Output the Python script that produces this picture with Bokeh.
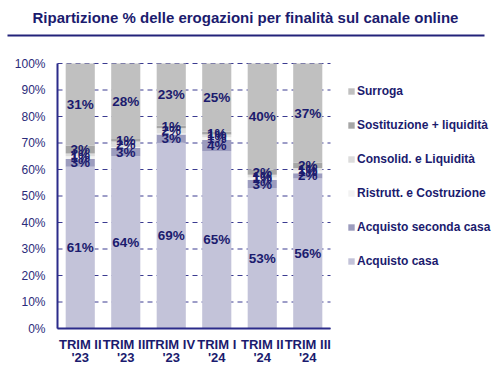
from bokeh.plotting import figure
from bokeh.models import (Range1d, FixedTicker, PrintfTickFormatter, Legend, LegendItem,
                          ColumnDataSource)
from bokeh.core.properties import value
from bokeh.embed import file_html
from bokeh.resources import INLINE

# ---------------- data ----------------
categories = ["TRIM II\n'23", "TRIM III\n'23", "TRIM IV\n'23", "TRIM I\n'24", "TRIM II\n'24", "TRIM III\n'24"]
series_names = ["Acquisto casa", "Acquisto seconda casa", "Ristrutt. e Costruzione",
                "Consolid. e Liquidità", "Sostituzione + liquidità", "Surroga"]
acquisto_casa = [61, 64, 69, 65, 53, 56]
acquisto_seconda = [3, 3, 3, 4, 3, 2]
ristrutt = [1, 0.4, 0.4, 1, 1, 1]
consolid = [1, 2, 2, 1, 1, 1]
sostituzione = [3, 1, 1, 1, 2, 2]
surroga = [31, 28, 23, 25, 40, 37]
y_ticks = [0, 10, 20, 30, 40, 50, 60, 70, 80, 90, 100]
title_text = "Ripartizione % delle erogazioni per finalità sul canale online"

series = [acquisto_casa, acquisto_seconda, ristrutt, consolid, sostituzione, surroga]
colors = ["#C3C3D9", "#9C9CBE", "#F2F2F2", "#DCDCDC", "#A6A6A6", "#C0C0C0"]

NAVY = "#1B1B6E"
AXIS = "#2B2B8A"
FONT = "Liberation Sans"

# ---------------- layout geometry (pixels) ----------------
W, H = 496, 371
PX_LEFT, PX_PER_CAT = 57.0, 45.5      # plot area left edge, width of one category
PX_ZERO, PX_PER_PCT = 328.0, 2.65     # y pixel of 0 %, pixels per percent
n = len(categories)


def px2x(px):
    return (px - PX_LEFT) / PX_PER_CAT


def px2y(py):
    return (PX_ZERO - py) / PX_PER_PCT


xs = [i + 0.5 for i in range(n)]
totals = [sum(s[i] for s in series) for i in range(n)]
data = {"x": xs}
keys = []
for k, s in enumerate(series):
    key = f"s{k}"
    keys.append(key)
    data[key] = [s[i] / totals[i] * 100 for i in range(n)]
src = ColumnDataSource(data)

p = figure(width=W, height=H,
           x_range=Range1d(px2x(0), px2x(W)), y_range=Range1d(px2y(H), px2y(0)),
           output_backend="svg", toolbar_location=None, min_border=0)
p.outline_line_color = None
p.grid.visible = False

# title and rule
p.text(x=[px2x(245)], y=[px2y(17)], text=[title_text], text_font=value(FONT),
       text_font_style="bold", text_font_size="15px", text_color=NAVY,
       text_align="center", text_baseline="middle")
p.segment(x0=[px2x(7)], y0=[px2y(35)], x1=[px2x(484)], y1=[px2y(35)],
          line_color="#23237A", line_width=2.2)

# dashed horizontal gridlines across the plot area only
p.segment(x0=[0] * len(y_ticks), x1=[n] * len(y_ticks), y0=y_ticks, y1=y_ticks,
          line_color="#3A3A90", line_dash="5 4", line_width=1)

renderers = p.vbar_stack(keys, x="x", width=0.64, source=src, color=colors, line_color=None)

# data labels
lx, ly, lt = [], [], []
for i in range(n):
    base = 0.0
    for k, s in enumerate(series):
        h = s[i] / totals[i] * 100
        if round(s[i]) >= 1:
            lx.append(xs[i])
            ly.append(base + h / 2)
            lt.append(f"{round(s[i])}%")
        base += h
p.text(x=lx, y=ly, text=lt, text_font=value(FONT), text_font_style="bold",
       text_font_size="13.5px", text_color=NAVY, text_align="center", text_baseline="middle")

# axes fixed at the plot area's edges
yax = p.yaxis[0]
yax.fixed_location = 0
yax.bounds = (0, 100)
yax.ticker = FixedTicker(ticks=y_ticks)
yax.formatter = PrintfTickFormatter(format="%d%%")
yax.major_label_text_font = FONT
yax.major_label_text_font_size = "12px"
yax.major_label_text_color = "#2B2B7A"
yax.major_label_standoff = 12
yax.major_tick_out = 0
yax.major_tick_in = 0
yax.minor_tick_out = 0
yax.minor_tick_in = 0
yax.axis_line_color = AXIS
yax.axis_line_width = 2

xax = p.xaxis[0]
xax.fixed_location = 0
xax.bounds = (0, n)
xax.ticker = FixedTicker(ticks=xs)
xax.major_label_overrides = {x: c for x, c in zip(xs, categories)}
xax.major_label_text_font = FONT
xax.major_label_text_font_size = "13px"
xax.major_label_text_font_style = "bold"
xax.major_label_text_color = NAVY
xax.major_label_text_line_height = 0.88
xax.major_label_standoff = 8
xax.major_tick_out = 0
xax.major_tick_in = 0
xax.minor_tick_out = 0
xax.minor_tick_in = 0
xax.axis_line_color = AXIS
xax.axis_line_width = 2

# legend (reverse order: Surroga on top)
items = [LegendItem(label=series_names[k], renderers=[renderers[k]]) for k in range(len(series))][::-1]
leg_h = 6 * 26 + 5 * 8
legend = Legend(items=items, location=(347, H - 78 - leg_h), orientation="vertical",
                glyph_width=8, glyph_height=8, label_height=26, spacing=8,
                padding=0, margin=0, label_standoff=2,
                label_text_font=FONT, label_text_font_style="bold",
                label_text_font_size="12px", label_text_color=NAVY,
                border_line_color=None, background_fill_alpha=0)
p.add_layout(legend, "center")

open("out.html", "w").write(file_html(p, INLINE))
